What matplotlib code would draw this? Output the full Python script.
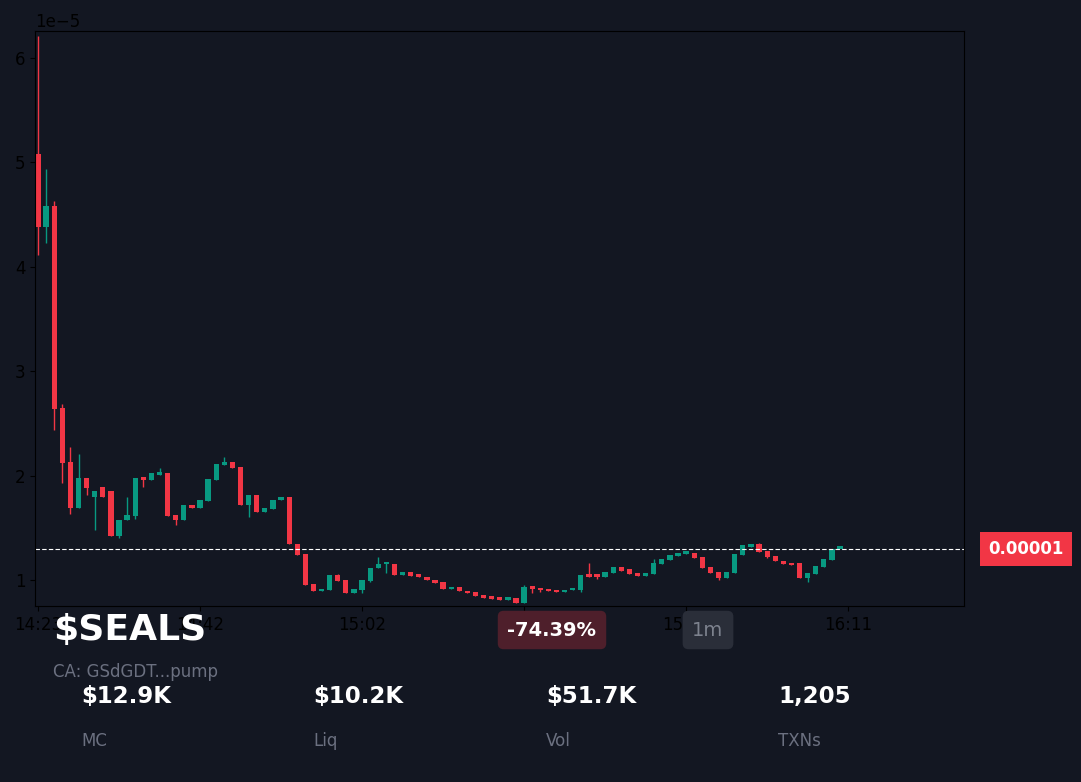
import numpy as np
import matplotlib.pyplot as plt

# OHLC in units of 1e-5
opens = [5.08, 4.38, 4.58, 2.65, 2.13, 1.69, 1.98, 1.79, 1.89, 1.85,
         1.42, 1.57, 1.61, 1.98, 1.96, 2.01, 2.02, 1.62, 1.57, 1.72,
         1.69, 1.76, 1.96, 2.10, 2.13, 2.08, 1.72, 1.81, 1.65, 1.68,
         1.77, 1.79, 1.34, 1.25, 0.96, 0.89, 0.90, 1.05, 1.00, 0.87,
         0.90, 0.99, 1.11, 1.15, 1.15, 1.05, 1.08, 1.04, 1.03, 1.00,
         0.98, 0.91, 0.93, 0.89, 0.88, 0.86, 0.84, 0.83, 0.81, 0.83,
         0.78, 0.94, 0.92, 0.91, 0.90, 0.88, 0.90, 0.90, 1.05, 1.04,
         1.03, 1.07, 1.12, 1.10, 1.06, 1.04, 1.06, 1.15, 1.19, 1.23,
         1.25, 1.26, 1.22, 1.12, 1.08, 1.02, 1.07, 1.24, 1.32, 1.34,
         1.28, 1.23, 1.18, 1.16, 1.16, 1.02, 1.06, 1.12, 1.19, 1.30]
closes = [4.38, 4.58, 2.64, 2.12, 1.69, 1.98, 1.88, 1.85, 1.79, 1.42,
          1.57, 1.62, 1.98, 1.96, 2.02, 2.03, 1.61, 1.57, 1.72, 1.69,
          1.77, 1.97, 2.11, 2.13, 2.07, 1.72, 1.81, 1.65, 1.69, 1.77,
          1.79, 1.34, 1.24, 0.95, 0.89, 0.91, 1.05, 0.99, 0.87, 0.91,
          1.00, 1.11, 1.15, 1.16, 1.05, 1.08, 1.04, 1.03, 1.00, 0.97,
          0.91, 0.93, 0.89, 0.87, 0.85, 0.83, 0.82, 0.81, 0.83, 0.78,
          0.93, 0.91, 0.90, 0.89, 0.88, 0.90, 0.92, 1.05, 1.03, 1.03,
          1.08, 1.12, 1.09, 1.06, 1.04, 1.06, 1.16, 1.20, 1.24, 1.25,
          1.26, 1.21, 1.11, 1.07, 1.02, 1.08, 1.25, 1.33, 1.34, 1.27,
          1.22, 1.18, 1.15, 1.14, 1.02, 1.07, 1.13, 1.20, 1.30, 1.30]
# extra wick extremes where visible (index: value)
high_extra = {0: 6.21, 1: 4.94, 2: 4.63, 3: 2.69, 4: 2.27, 5: 2.21, 11: 1.79,
              13: 1.99, 15: 2.07, 23: 2.18, 37: 1.06, 42: 1.22, 60: 0.95,
              68: 1.16, 69: 1.05, 76: 1.20, 89: 1.35}
low_extra = {0: 4.11, 1: 4.23, 2: 2.44, 3: 1.93, 4: 1.63, 6: 1.81, 7: 1.48,
             10: 1.40, 12: 1.58, 13: 1.89, 17: 1.53, 26: 1.60, 40: 0.87,
             41: 0.98, 43: 1.07, 61: 0.87, 62: 0.88, 67: 0.88, 69: 1.01,
             84: 1.00, 90: 1.21, 95: 0.98}
last_price = 1.30
tick_pos = [0, 20, 40, 60, 80, 100]
tick_labels = ["14:23", "14:42", "15:02", "15:26", "15:51", "16:11"]

bg = "#131722"
red = "#f23645"
green = "#089981"

fig = plt.figure(figsize=(10.81, 7.82), dpi=100, facecolor=bg)
ax = fig.add_axes([35 / 1081, 176 / 782, 929 / 1081, 575 / 782], facecolor=bg)

for i, (o, c) in enumerate(zip(opens, closes)):
    col = green if c >= o else red
    hi = max(o, c, high_extra.get(i, 0))
    lo = min(o, c, low_extra.get(i, 99))
    ax.vlines(i, lo * 1e-5, hi * 1e-5, color=col, linewidth=1)
    h = max(abs(c - o), 0.025)
    ax.bar(i, h * 1e-5, bottom=min(o, c) * 1e-5, width=0.65, color=col, linewidth=0)

ax.axhline(last_price * 1e-5, color="white", linestyle="--", linewidth=0.8, dashes=(4, 2))
ax.set_xlim(-0.37, 114.3)
ax.set_ylim(0.75e-5, 6.26e-5)
ax.set_xticks(tick_pos)
ax.set_xticklabels(tick_labels, fontsize=12)
ax.set_yticks([1e-5, 2e-5, 3e-5, 4e-5, 5e-5, 6e-5])
ax.tick_params(labelsize=12)
ax.yaxis.get_offset_text().set_fontsize(12)

# price label on right
fig.text(1026 / 1081, 1 - 549 / 782, "0.00001", color="white", fontsize=12,
         fontweight="bold", ha="center", va="center",
         bbox=dict(boxstyle="square,pad=0.5", fc=red, ec="none"))

# overlay texts
fig.text(53 / 1081, 1 - 630 / 782, "$SEALS", color="white", fontsize=26,
         fontweight="bold", va="center")
fig.text(53 / 1081, 1 - 672 / 782, "CA: GSdGDT...pump", color="#6b7080",
         fontsize=12, va="center")
fig.text(552 / 1081, 1 - 630 / 782, "-74.39%", color="white", fontsize=14,
         fontweight="bold", ha="center", va="center",
         bbox=dict(boxstyle="round,pad=0.5,rounding_size=0.3", fc="#4e1f2b", ec="none"))
fig.text(708 / 1081, 1 - 630 / 782, "1m", color="#7d828e", fontsize=14,
         ha="center", va="center",
         bbox=dict(boxstyle="round,pad=0.5,rounding_size=0.3", fc="#2a2e39", ec="none"))

stat_vals = ["$12.9K", "$10.2K", "$51.7K", "1,205"]
stat_names = ["MC", "Liq", "Vol", "TXNs"]
stat_x = [81, 313, 546, 778]
for x, v, n in zip(stat_x, stat_vals, stat_names):
    fig.text(x / 1081, 1 - 697 / 782, v, color="white", fontsize=16.5,
             fontweight="bold", va="center")
    fig.text(x / 1081, 1 - 741 / 782, n, color="#6b7080", fontsize=12, va="center")

fig.savefig("out.png", dpi=100, facecolor=bg)
